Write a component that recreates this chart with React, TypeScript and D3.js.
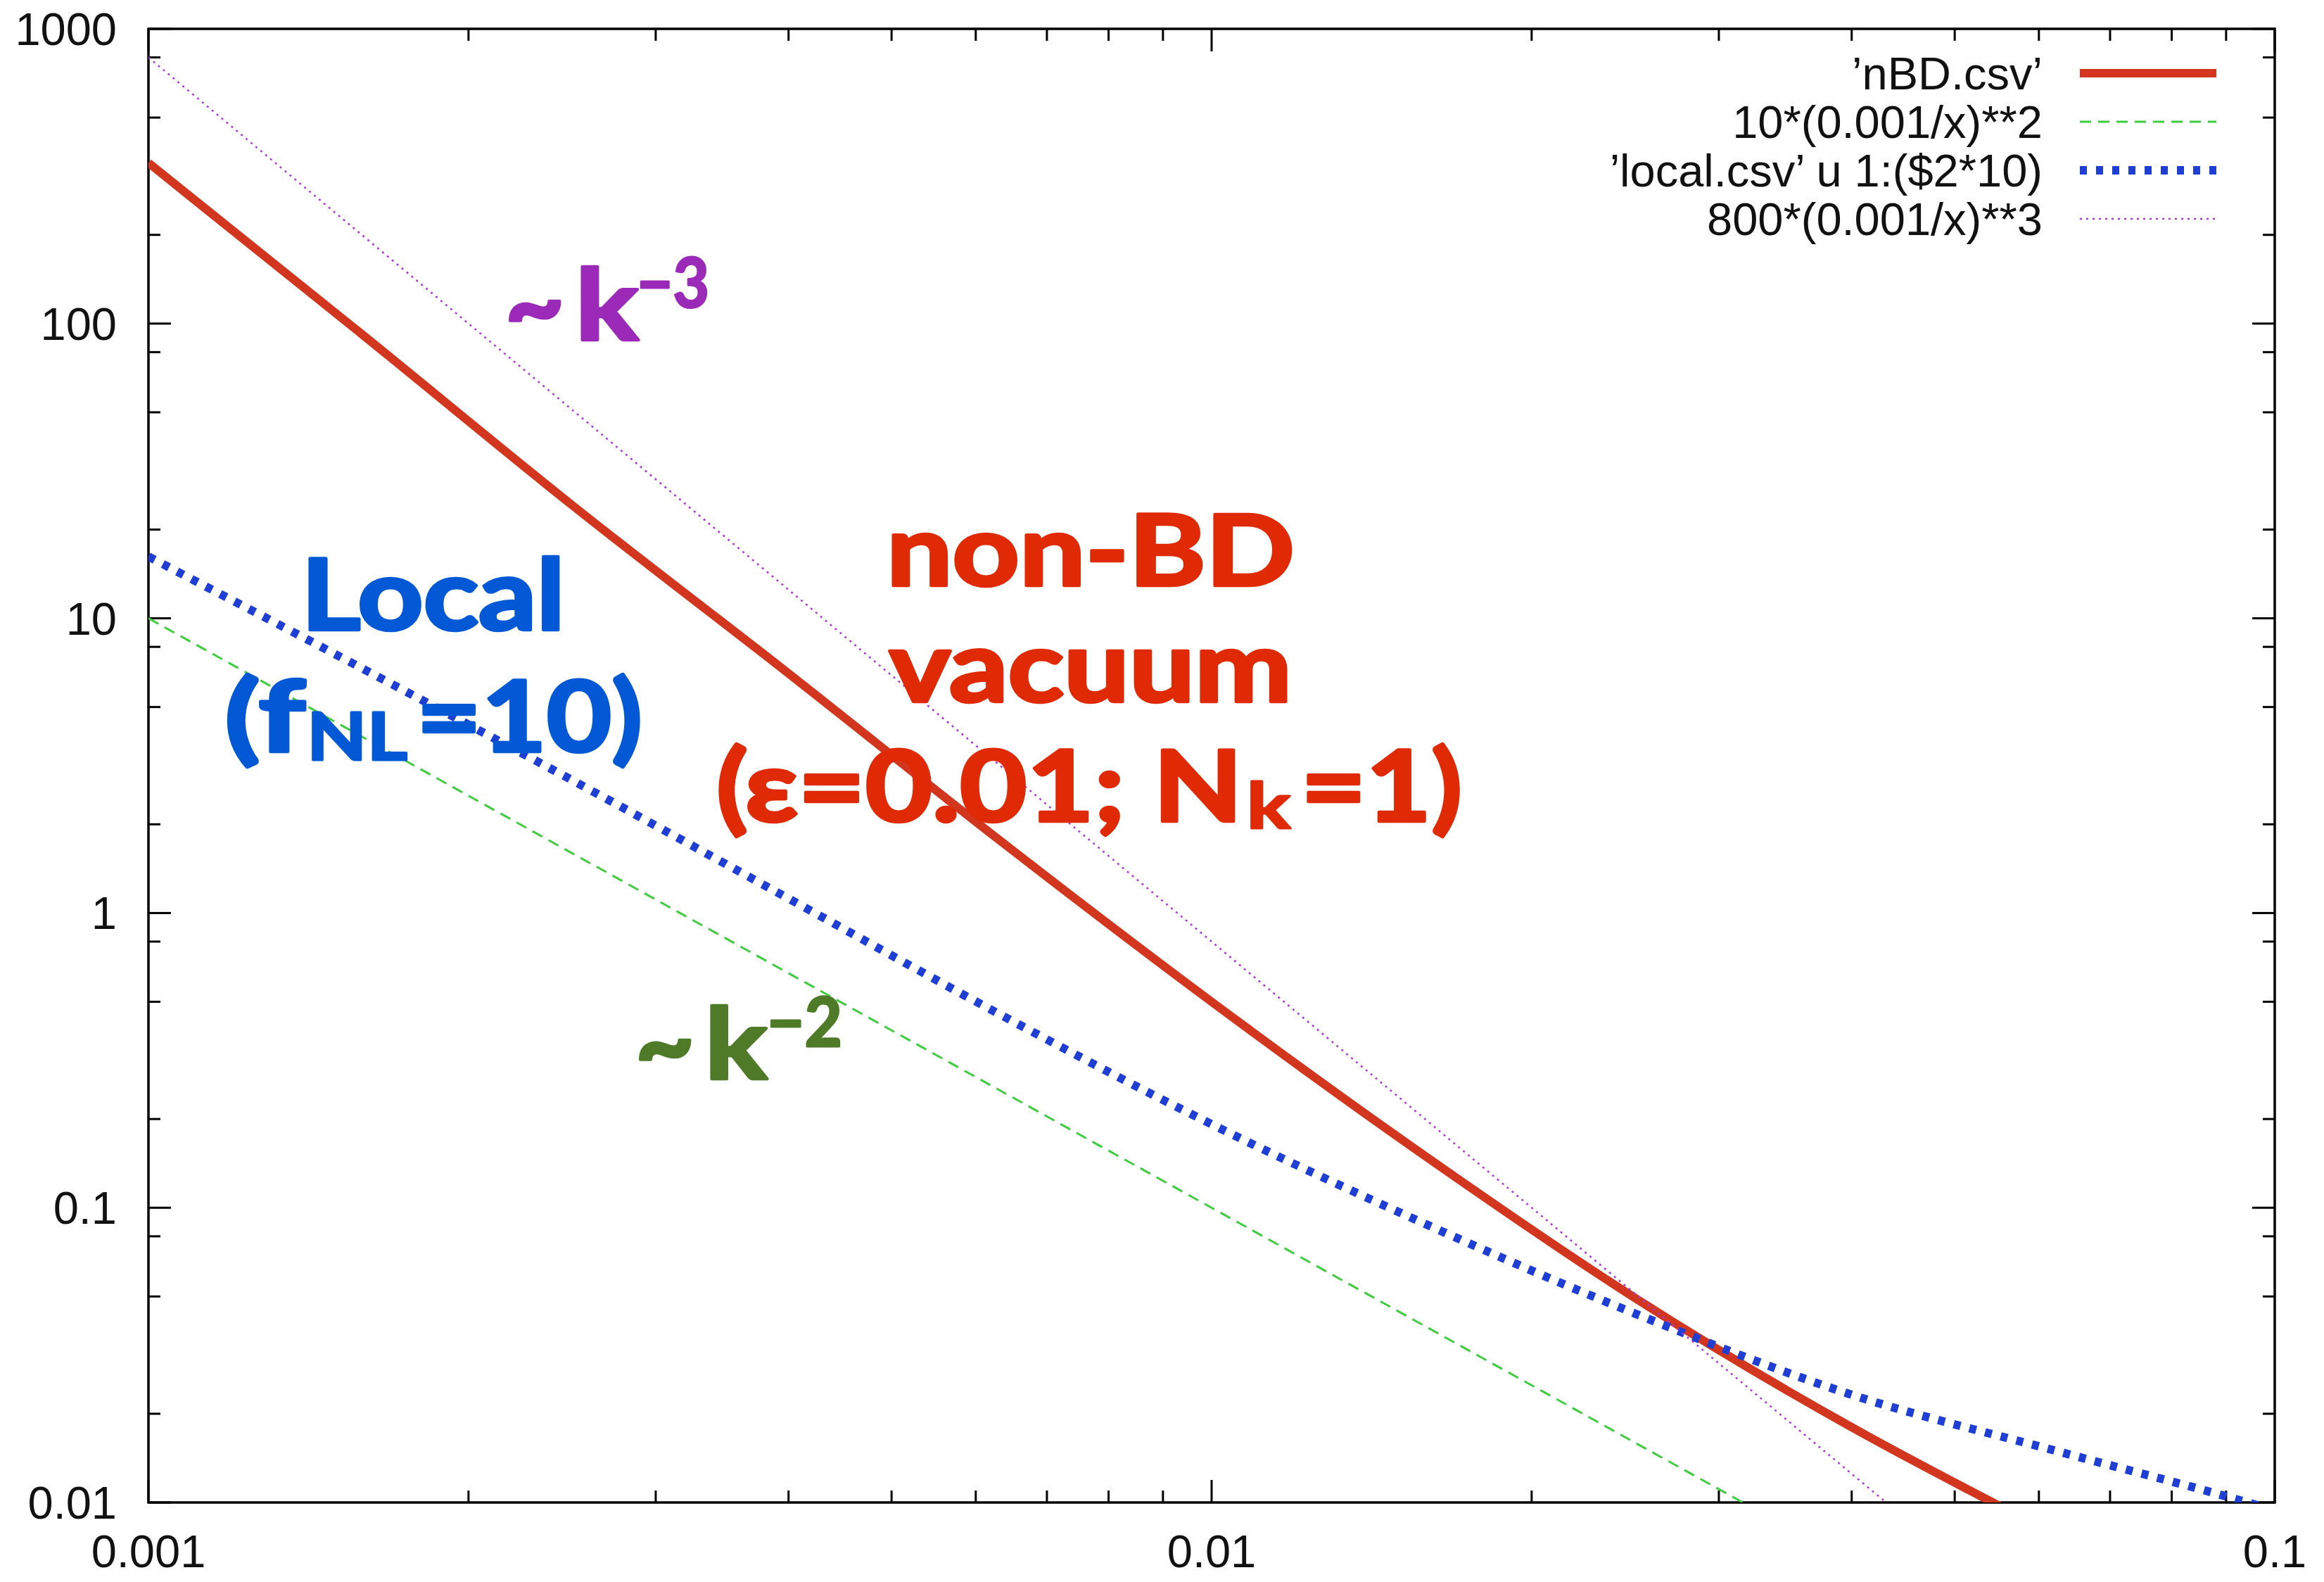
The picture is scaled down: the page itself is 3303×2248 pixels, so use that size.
import * as d3 from "d3";

const W = 3303, H = 2248;
const plot = { left: 211, right: 3233, top: 41, bottom: 2135 };

const xTicks = [0.001, 0.01, 0.1];
const xTickLabels = ["0.001", "0.01", "0.1"];
const yTicks = [0.01, 0.1, 1, 10, 100, 1000];
const yTickLabels = ["0.01", "0.1", "1", "10", "100", "1000"];
const xMinorSteps = [2, 3, 4, 5, 6, 7, 8, 9];
const yMinorSteps = [2, 5, 8];

// 'nBD.csv'
const nbdK = [0.001, 0.0016, 0.0025, 0.004, 0.0063, 0.01, 0.016, 0.025, 0.04, 0.054, 0.06];
const nbdP = [351, 90, 24.3, 6.5, 1.78, 0.5, 0.147, 0.0495, 0.018, 0.0101, 0.0083];

// 'local.csv' u 1:($2*10)
const localK = [0.001, 0.0016, 0.0025, 0.004, 0.0063, 0.01, 0.016, 0.025, 0.04, 0.063, 0.0925, 0.1];
const localP = [16.2, 6.67, 2.83, 1.12, 0.456, 0.192, 0.0871, 0.0438, 0.0232, 0.0148, 0.0102, 0.0094];

// 10*(0.001/x)**2
const k2K = [0.001, 0.01, 0.0316];
const k2P = [10, 0.1, 0.01];

// 800*(0.001/x)**3
const k3K = [0.001, 0.01, 0.0431];
const k3P = [800, 0.8, 0.01];

const legendLabels = ["\u2019nBD.csv\u2019", "10*(0.001/x)**2", "\u2019local.csv\u2019 u 1:($2*10)", "800*(0.001/x)**3"];

const series = [
  { k: nbdK, p: nbdP, color: "#d3361f", width: 12, dash: "none", curve: true },
  { k: k2K, p: k2P, color: "#3fcc3f", width: 3, dash: "16 10", curve: false },
  { k: localK, p: localP, color: "#1f3ed4", width: 12, dash: "10 13", curve: true },
  { k: k3K, p: k3P, color: "#a93ad8", width: 2.5, dash: "3 6", curve: false },
];

const x = d3.scaleLog().domain([0.001, 0.1]).range([plot.left, plot.right]);
const y = d3.scaleLog().domain([0.01, 1000]).range([plot.bottom, plot.top]);

const axisFont = "'Liberation Sans', Arial, Helvetica, sans-serif";
const annoFont = "Lato, 'Open Sans', sans-serif";

const xMinor = xTicks.slice(0, -1).flatMap((d) => xMinorSteps.map((s) => d * s));
const yMinor = yTicks.slice(0, -1).flatMap((d) => yMinorSteps.map((s) => d * s));

// the slide text is heavier than Lato Bold, so give it a thin outline in the same colour
const Anno = ({ t, px, py, size, len, color }) => (
  <text
    x={px}
    y={py}
    fontSize={size}
    fontFamily={annoFont}
    fontWeight={700}
    fill={color}
    stroke={color}
    strokeWidth={size > 100 ? 4.5 : 3}
    strokeLinejoin="round"
    textLength={len}
    lengthAdjust="spacingAndGlyphs"
  >
    {t}
  </text>
);

export default function App() {
  const makePath = (s) => {
    const pts = s.k.map((k, i) => [x(k), y(s.p[i])]);
    const line = d3.line().curve(s.curve ? d3.curveMonotoneX : d3.curveLinear);
    return line(pts);
  };

  const major = 32, minor = 17;
  const purple = "#9b2ab9", green = "#4f7a28", blue = "#0358d6", red = "#e02a06";

  return (
    <svg width={W} height={H} style={{ position: "absolute", left: 0, top: 0 }}>
      <rect width={W} height={H} fill="#fff" />
      <defs>
        <clipPath id="plotArea">
          <rect x={plot.left} y={plot.top} width={plot.right - plot.left} height={plot.bottom - plot.top} />
        </clipPath>
      </defs>

      {/* ticks, mirrored on all four sides */}
      <g stroke="#000" strokeWidth={3}>
        {xTicks.map((d) => (
          <g key={"xm" + d}>
            <line x1={x(d)} x2={x(d)} y1={plot.bottom} y2={plot.bottom - major} />
            <line x1={x(d)} x2={x(d)} y1={plot.top} y2={plot.top + major} />
          </g>
        ))}
        {xMinor.map((d) => (
          <g key={"xn" + d}>
            <line x1={x(d)} x2={x(d)} y1={plot.bottom} y2={plot.bottom - minor} />
            <line x1={x(d)} x2={x(d)} y1={plot.top} y2={plot.top + minor} />
          </g>
        ))}
        {yTicks.map((d) => (
          <g key={"ym" + d}>
            <line x1={plot.left} x2={plot.left + major} y1={y(d)} y2={y(d)} />
            <line x1={plot.right} x2={plot.right - major} y1={y(d)} y2={y(d)} />
          </g>
        ))}
        {yMinor.map((d) => (
          <g key={"yn" + d}>
            <line x1={plot.left} x2={plot.left + minor} y1={y(d)} y2={y(d)} />
            <line x1={plot.right} x2={plot.right - minor} y1={y(d)} y2={y(d)} />
          </g>
        ))}
      </g>
      <rect
        x={plot.left}
        y={plot.top}
        width={plot.right - plot.left}
        height={plot.bottom - plot.top}
        fill="none"
        stroke="#000"
        strokeWidth={3.5}
      />

      <g fontFamily={axisFont} fontSize={65} fill="#111">
        {yTicks.map((d, i) => (
          <text key={"yl" + d} x={plot.left - 45} y={y(d) + 23} textAnchor="end">
            {yTickLabels[i]}
          </text>
        ))}
        {xTicks.map((d, i) => (
          <text key={"xl" + d} x={x(d)} y={plot.bottom + 92} textAnchor="middle">
            {xTickLabels[i]}
          </text>
        ))}
      </g>

      <g clipPath="url(#plotArea)" fill="none">
        {series.map((s, i) => (
          <path
            key={"s" + i}
            d={makePath(s)}
            stroke={s.color}
            strokeWidth={s.width}
            strokeDasharray={s.dash}
            strokeLinejoin="round"
          />
        ))}
      </g>

      {/* key */}
      <g fontFamily={axisFont} fontSize={65} fill="#111">
        {series.map((s, i) => {
          const ry = 104 + i * 69;
          return (
            <g key={"lg" + i}>
              <text x={2903} y={ry + 23} textAnchor="end">
                {legendLabels[i]}
              </text>
              <line
                x1={2956}
                x2={3150}
                y1={ry}
                y2={ry}
                stroke={s.color}
                strokeWidth={s.width}
                strokeDasharray={s.dash}
              />
            </g>
          );
        })}
      </g>

      {/* annotations */}
      <Anno t="~" px={718} py={483} size={140} len={84} color={purple} />
      <Anno t="k" px={818} py={483} size={140} len={89} color={purple} />
      <Anno t={"\u22123"} px={905} py={437} size={98} len={103} color={purple} />

      <Anno t="~" px={903} py={1533} size={140} len={84} color={green} />
      <Anno t="k" px={1002} py={1533} size={140} len={88} color={green} />
      <Anno t={"\u22122"} px={1090} py={1487} size={98} len={107} color={green} />

      <Anno t="Local" px={428} py={895} size={140} len={375} color={blue} />
      <Anno t="(f" px={319} py={1068} size={140} len={115} color={blue} />
      <Anno t="NL" px={436} py={1080} size={94} len={143} color={blue} />
      <Anno t="=10)" px={592} py={1068} size={140} len={321} color={blue} />

      <Anno t="non-BD" px={1260} py={832} size={140} len={580} color={red} />
      <Anno t="vacuum" px={1264} py={997} size={140} len={572} color={red} />
      <Anno t={"(\u03b5=0.01; N"} px={1018} py={1167} size={140} len={748} color={red} />
      <Anno t="k" px={1772} py={1177} size={90} len={62} color={red} />
      <Anno t="=1)" px={1849} py={1167} size={140} len={229} color={red} />
    </svg>
  );
}
